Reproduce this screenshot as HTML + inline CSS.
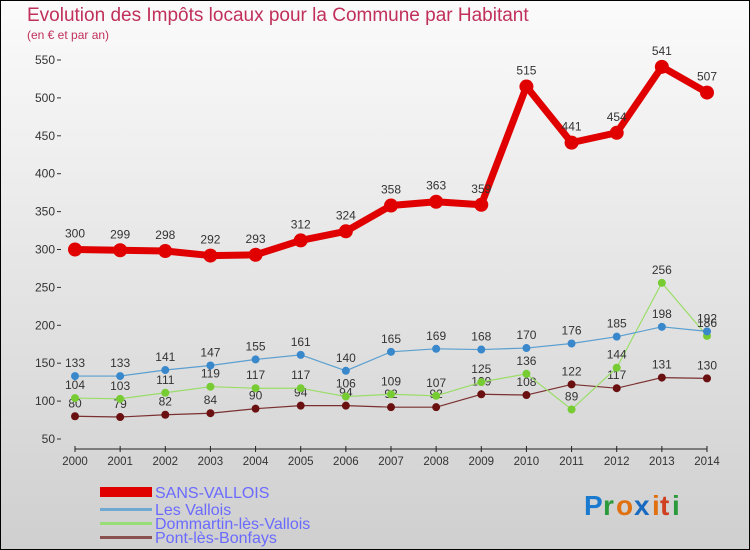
<!DOCTYPE html>
<html><head><meta charset="utf-8"><style>
body{margin:0}
#c{width:750px;height:550px;position:relative;overflow:hidden;font-family:"Liberation Sans",sans-serif}
</style></head><body>
<div id="c">
<svg id="s" width="750" height="550" xmlns="http://www.w3.org/2000/svg">
<defs><linearGradient id="bg" x1="0" y1="0" x2="0" y2="1"><stop offset="0" stop-color="#fbfbfb"/><stop offset="1" stop-color="#cfcfcf"/></linearGradient></defs>
<rect x="0.5" y="0.5" width="749" height="549" fill="url(#bg)" stroke="#000"/>
<text x="27" y="21" font-size="19" fill="#c0305a">Evolution des Impôts locaux pour la Commune par Habitant</text>
<text x="27" y="39" font-size="12" fill="#c0305a">(en € et par an)</text>
<g id="axes"></g><g id="series"></g>
<g>
<rect x="100" y="487" width="52" height="10" fill="#e00000"/>
<text x="155" y="498" font-size="16" fill="#6a6aff">SANS-VALLOIS</text>
<rect x="100" y="508" width="52" height="3" fill="#6fa8d0"/>
<text x="155" y="515" font-size="16" fill="#6a6aff">Les Vallois</text>
<rect x="100" y="522" width="52" height="3" fill="#99dd77"/>
<text x="155" y="529" font-size="16" fill="#6a6aff">Dommartin-lès-Vallois</text>
<rect x="100" y="536" width="52" height="3" fill="#8b5050"/>
<text x="155" y="543" font-size="16" fill="#6a6aff">Pont-lès-Bonfays</text>
</g>
<g font-size="28" font-weight="bold">
<text x="584" y="515" fill="#1a7ad0">P</text><text x="603" y="515" fill="#2a9a3a">r</text><text x="616" y="515" fill="#e07010">o</text><text x="634" y="515" fill="#1a6ac0">x</text><text x="652" y="515" fill="#e07010">i</text><text x="660" y="515" fill="#d04020">t</text><text x="672" y="515" fill="#2a9a3a">i</text>
</g>
</svg>
</div>
<script>
const years=[2000,2001,2002,2003,2004,2005,2006,2007,2008,2009,2010,2011,2012,2013,2014];
const sansVallois=[300,299,298,292,293,312,324,358,363,359,515,441,454,541,507];
const lesVallois=[133,133,141,147,155,161,140,165,169,168,170,176,185,198,192];
const dommartin=[104,103,111,119,117,117,106,109,107,125,136,89,144,256,186];
const pontBonfays=[80,79,82,84,90,94,94,92,92,109,108,122,117,131,130];
const yTicks=[50,100,150,200,250,300,350,400,450,500,550];
const NS="http://www.w3.org/2000/svg";
const X=i=>75+i*(632/14), Y=v=>439-(v-50)*(379/500);
function mk(t,a,p){const e=document.createElementNS(NS,t);for(const k in a)e.setAttribute(k,a[k]);p.appendChild(e);return e;}
const ax=document.getElementById('axes'), se=document.getElementById('series');
yTicks.forEach(v=>{
 const t=mk('text',{x:55,y:Y(v)+4,'font-size':12,fill:'#333','text-anchor':'end'},ax);t.textContent=v;
 
 
 mk('line',{x1:57,x2:61,y1:Y(v),y2:Y(v),stroke:'#333'},ax);
});
const xl=mk('line',{x1:75,x2:707,y1:449,y2:449,stroke:'#222','stroke-width':1},ax);


years.forEach((yr,i)=>{
 mk('line',{x1:X(i),x2:X(i),y1:446,y2:452,stroke:'#222'},ax);
 const t=mk('text',{x:X(i),y:465,'font-size':11.5,fill:'#333','text-anchor':'middle'},ax);t.textContent=yr;
 
 
});
function draw(vals,name,col,dot,w,r,fs){
 const g=mk('g',{},se);
 
 
 const l=mk('polyline',{points:vals.map((v,i)=>X(i)+','+Y(v)).join(' '),fill:'none',stroke:col,'stroke-width':w,'stroke-linejoin':'round'},g);
 
 
 vals.forEach((v,i)=>{
  const c=mk('circle',{cx:X(i),cy:Y(v),r:r,fill:dot},g);
  
  
  const t=mk('text',{x:X(i),y:Y(v)-(r+5),'font-size':fs,fill:'#333','text-anchor':'middle'},g);t.textContent=v;
  
  
 });
}
draw(pontBonfays,'pont-les-bonfays','#7a3030','#6a1010',1.2,4,12);
draw(dommartin,'dommartin','#99dd66','#77cc33',1.2,4,12);
draw(lesVallois,'les-vallois','#5a9fd0','#3a88cc',1.2,4,12);
draw(sansVallois,'sans-vallois','#e00000','#e00000',7,7,12);
</script>
</body></html>
